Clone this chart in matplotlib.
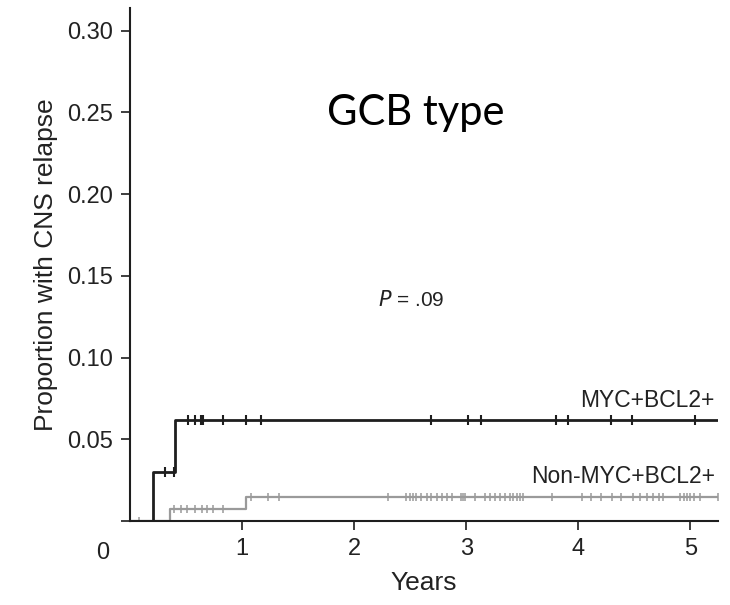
import numpy as np
import matplotlib
matplotlib.use("Agg")
import matplotlib.pyplot as plt

plt.rcParams['font.family'] = ['Liberation Sans', 'DejaVu Sans']

# step curves (cumulative incidence), years
myc_t = [0.13, 0.21, 0.40, 5.25]
myc_p = [0.0, 0.030, 0.062, 0.062]
non_t = [0.0, 0.36, 1.04, 5.25]
non_p = [0.0, 0.0074, 0.0147, 0.0147]

# censor marks
myc_cens = [0.31, 0.39, 0.52, 0.58, 0.63, 0.65, 0.83, 1.04, 1.17,
            2.69, 3.02, 3.13, 3.80, 3.91, 4.29, 4.48, 5.04]
non_cens = [0.08, 0.39, 0.46, 0.51, 0.58, 0.64, 0.69, 0.74, 0.83,
            1.08, 1.23, 1.33, 2.30, 2.46, 2.50, 2.53, 2.55, 2.60, 2.65,
            2.69, 2.74, 2.78, 2.83, 2.87, 2.95, 2.97, 2.99, 3.08, 3.17,
            3.21, 3.26, 3.30, 3.35, 3.39, 3.42, 3.45, 3.48, 3.51, 3.77,
            4.03, 4.11, 4.20, 4.30, 4.38, 4.49, 4.55, 4.61, 4.67, 4.72,
            4.76, 4.91, 4.94, 4.97, 5.00, 5.03, 5.09, 5.25]

y_ticks = [0, 0.05, 0.10, 0.15, 0.20, 0.25, 0.30]
y_labels = ['', '0.05', '0.10', '0.15', '0.20', '0.25', '0.30']
x_ticks = [1, 2, 3, 4, 5]


def value_at(t, times, vals):
    idx = np.searchsorted(times, t, side='right') - 1
    return np.array(vals)[np.clip(idx, 0, len(vals) - 1)]


fig = plt.figure(figsize=(7.3, 6.05), dpi=100)
ax = fig.add_axes([0.178, 0.139, 0.806, 0.848])

black = '#1e1e1e'
grey = '#9a9a9a'
txt = '#222222'

ax.step(non_t, non_p, where='post', color=grey, lw=1.6, zorder=2)
ax.plot(non_cens, value_at(non_cens, non_t, non_p), ls='none', marker='|',
        ms=6, mew=1.1, color=grey, zorder=2)
ax.step(myc_t, myc_p, where='post', color=black, lw=2.0, zorder=3)
ax.plot(myc_cens, value_at(myc_cens, myc_t, myc_p), ls='none', marker='|',
        ms=7, mew=1.5, color=black, zorder=3)

ax.set_xlim(0, 5.25)
ax.set_ylim(0, 0.314)
ax.set_xticks(x_ticks)
ax.set_xticklabels([str(v) for v in x_ticks])
ax.set_yticks(y_ticks)
ax.set_yticklabels(y_labels)
ax.spines['top'].set_visible(False)
ax.spines['right'].set_visible(False)
for s in ('left', 'bottom'):
    ax.spines[s].set_linewidth(1.5)
    ax.spines[s].set_color(black)
ax.tick_params(axis='both', length=6.5, width=1.2, color=black,
               labelsize=17, labelcolor=txt, pad=6)

ax.annotate('0', xy=(0, 0), xycoords='data', xytext=(-27, -32),
            textcoords='offset pixels', ha='center', va='center',
            fontsize=17, color=txt)

ax.set_ylabel('Proportion with CNS relapse', fontsize=19, color=txt,
              labelpad=6)
ax.set_xlabel('Years', fontsize=19, color=txt, labelpad=8)

ax.text(5.22, 0.0699, 'MYC+BCL2+', ha='right', va='baseline', fontsize=16.5,
        color=txt)
ax.text(5.22, 0.0233, 'Non-MYC+BCL2+', ha='right', va='baseline',
        fontsize=16.5, color=txt)
ax.text(2.51, 0.135, r'$\it{P}$ = .09', ha='center', va='center',
        fontsize=15, color=txt)
ax.text(2.55, 0.2426, 'GCB type', ha='center', va='baseline', fontsize=30,
        family=['Lato', 'DejaVu Sans'], color='black')

fig.savefig('out.png', dpi=100)
